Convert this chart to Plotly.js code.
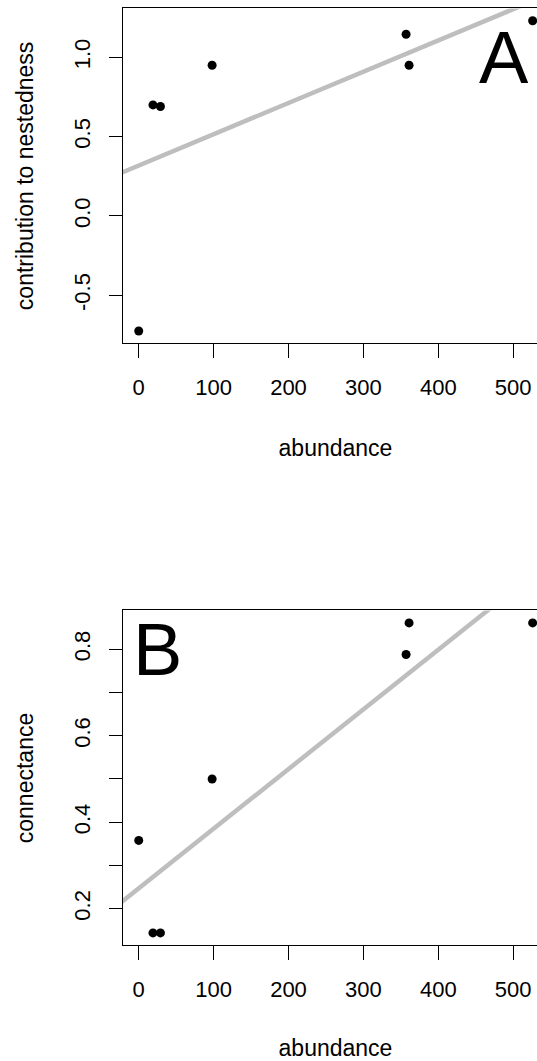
<!DOCTYPE html>
<html>
<head>
<meta charset="utf-8">
<script src="https://cdn.plot.ly/plotly-3.0.1.min.js"></script>
<style>
html,body{margin:0;padding:0;overflow:hidden;background:#fff;}
#chart{width:560px;height:1061px;}
</style>
</head>
<body>
<div id="chart"></div>
<script>
// ---- data ----
const abundance = [0, 19, 29, 98, 357, 361, 526];
const nestedness = [-0.725, 0.70, 0.69, 0.95, 1.145, 0.95, 1.23];
const connectance = [0.358, 0.144, 0.144, 0.50, 0.788, 0.861, 0.861];
const fitA = {intercept: 0.318, slope: 0.00197};
const fitB = {intercept: 0.247, slope: 0.00138};
const lineX = [-100, 800];
const xTicks = [0, 100, 200, 300, 400, 500];
const yTicksA = [-0.5, 0, 0.5, 1.0];
const yTickTextA = ["-0.5", "0.0", "0.5", "1.0"];
const yTicksB = [0.2, 0.3, 0.4, 0.5, 0.6, 0.7, 0.8];
const yTickTextB = ["0.2", "", "0.4", "", "0.6", "", "0.8"];
const xTitle = "abundance";
const yTitleA = "contribution to nestedness";
const yTitleB = "connectance";

const F = "Liberation Sans, Arial, sans-serif";
const tickFont = {family: F, size: 22, color: "#000"};
const titleFont = {family: F, size: 23, color: "#000"};

const traces = [
  {x: lineX, y: lineX.map(v => fitA.intercept + fitA.slope * v), mode: "lines",
   line: {color: "#bebebe", width: 4.5}, xaxis: "x", yaxis: "y", hoverinfo: "skip"},
  {x: abundance, y: nestedness, mode: "markers",
   marker: {color: "#000", size: 9}, xaxis: "x", yaxis: "y", cliponaxis: false},
  {x: lineX, y: lineX.map(v => fitB.intercept + fitB.slope * v), mode: "lines",
   line: {color: "#bebebe", width: 4.5}, xaxis: "x2", yaxis: "y2", hoverinfo: "skip"},
  {x: abundance, y: connectance, mode: "markers",
   marker: {color: "#000", size: 9}, xaxis: "x2", yaxis: "y2", cliponaxis: false}
];

function xax(anchor) {
  return {
    anchor: anchor, range: [-21.0, 546.5], tickvals: xTicks, ticktext: xTicks.map(String),
    showgrid: false, zeroline: false, showline: true, mirror: true, linecolor: "#000", linewidth: 1,
    ticks: "outside", ticklen: 14, tickwidth: 1, tickcolor: "#000", tickfont: tickFont,
    ticklabelstandoff: 10,
    title: {text: xTitle, font: titleFont, standoff: 41}, automargin: false
  };
}
function yax(anchor, domain, range, vals, text, title) {
  return {
    anchor: anchor, domain: domain, range: range, tickvals: vals, ticktext: text,
    showgrid: false, zeroline: false, showline: true, mirror: true, linecolor: "#000", linewidth: 1,
    ticks: "outside", ticklen: 13, tickwidth: 1, tickcolor: "#000", tickfont: tickFont,
    tickangle: -90, ticklabelstandoff: 10,
    title: {text: title, font: titleFont, standoff: 30}, automargin: false
  };
}

const layout = {
  width: 560, height: 1061,
  margin: {l: 123, r: 12, t: 0, b: 0},
  showlegend: false,
  paper_bgcolor: "#fff", plot_bgcolor: "#fff",
  xaxis: xax("y"),
  yaxis: yax("x", [0.67634, 0.99208], [-0.803, 1.308], yTicksA, yTickTextA, yTitleA),
  xaxis2: xax("y2"),
  yaxis2: yax("x2", [0.10886, 0.42460], [0.1149, 0.8897], yTicksB, yTickTextB, yTitleB),
  annotations: [
    {text: "A", x: 488, y: 1.0, xref: "x", yref: "y", showarrow: false,
     xanchor: "center", yanchor: "middle", font: {family: F, size: 74, color: "#000"}},
    {text: "B", x: 25, y: 0.80, xref: "x2", yref: "y2", showarrow: false,
     xanchor: "center", yanchor: "middle", font: {family: F, size: 74, color: "#000"}}
  ]
};

Plotly.newPlot("chart", traces, layout, {staticPlot: true, displayModeBar: false});
</script>
</body>
</html>
